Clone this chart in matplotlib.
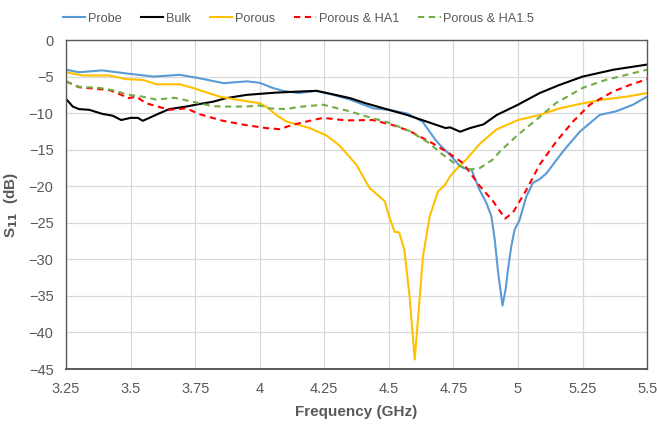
import matplotlib
matplotlib.use("Agg")
import matplotlib.pyplot as plt
import numpy as np

plt.rcParams['font.family'] = ['Liberation Sans', 'DejaVu Sans']

# Probe
f_probe = [3.25, 3.30, 3.39, 3.48, 3.59, 3.69, 3.77, 3.86, 3.95, 4.00, 4.05, 4.09, 4.15, 4.22,
           4.28, 4.35, 4.44, 4.50, 4.57, 4.63, 4.68, 4.70, 4.735, 4.77, 4.79, 4.82, 4.85, 4.877,
           4.897, 4.91, 4.923, 4.94, 4.952, 4.961, 4.974, 4.987, 5.006, 5.032, 5.058, 5.084,
           5.11, 5.174, 5.239, 5.316, 5.38, 5.445, 5.50]
s_probe = [-4.0, -4.35, -4.1, -4.5, -4.95, -4.7, -5.2, -5.85, -5.6, -5.8, -6.5, -6.9, -7.2, -6.9,
           -7.4, -8.1, -9.3, -9.5, -10.0, -11.1, -13.6, -14.4, -15.6, -17.0, -17.5, -17.7, -20.4, -22.2,
           -24.1, -27.3, -31.8, -36.3, -34.1, -31.4, -28.2, -25.9, -24.6, -21.4, -19.5, -19.0,
           -18.2, -15.2, -12.5, -10.2, -9.7, -8.8, -7.7]

# Bulk
f_bulk = [3.25, 3.276, 3.30, 3.34, 3.39, 3.43, 3.464, 3.50, 3.528, 3.547, 3.573, 3.61, 3.65,
          3.716, 3.767, 3.818, 3.87, 3.95, 4.06, 4.15, 4.22, 4.28, 4.35, 4.41, 4.50, 4.57, 4.645,
          4.72, 4.737, 4.776, 4.814, 4.866, 4.918, 5.0, 5.084, 5.16, 5.25, 5.37, 5.5]
s_bulk = [-8.0, -9.05, -9.4, -9.5, -10.05, -10.3, -10.9, -10.6, -10.6, -11.0, -10.6, -10.0, -9.4,
          -9.05, -8.7, -8.4, -7.9, -7.45, -7.15, -7.0, -6.9, -7.35, -7.9, -8.6, -9.5, -10.2, -11.1,
          -12.0, -11.9, -12.5, -12.0, -11.5, -10.2, -8.8, -7.2, -6.1, -4.95, -4.0, -3.3]

# Porous
f_por = [3.25, 3.315, 3.418, 3.483, 3.547, 3.60, 3.69, 3.741, 3.845, 3.909, 4.0, 4.03, 4.064,
         4.103, 4.154, 4.193, 4.258, 4.309, 4.374, 4.425, 4.464, 4.484, 4.50, 4.522, 4.54, 4.56,
         4.58, 4.60, 4.62, 4.632, 4.658, 4.69, 4.717, 4.737, 4.77, 4.80, 4.851, 4.916, 5.0,
         5.084, 5.161, 5.252, 5.329, 5.42, 5.5]
s_por = [-4.35, -4.8, -4.8, -5.3, -5.4, -6.0, -6.0, -6.5, -7.7, -8.1, -8.6, -9.2, -10.2,
         -11.1, -11.6, -12.0, -13.0, -14.4, -17.0, -20.2, -21.4, -22.0, -24.0, -26.2, -26.3, -28.7,
         -35.0, -43.7, -35.0, -29.6, -24.1, -20.7, -19.8, -18.6, -17.3, -16.3, -14.2, -12.2, -10.9,
         -10.2, -9.3, -8.6, -8.1, -7.7, -7.2]

# Porous & HA1
f_ha1 = [3.25, 3.30, 3.418, 3.464, 3.49, 3.522, 3.56, 3.65, 3.716, 3.767, 3.857, 3.948, 4.025,
         4.077, 4.128, 4.206, 4.245, 4.335, 4.438, 4.516, 4.58, 4.67, 4.735, 4.787, 4.851, 4.903,
         4.95, 4.98, 5.032, 5.084, 5.149, 5.213, 5.278, 5.368, 5.432, 5.5]
s_ha1 = [-5.6, -6.4, -6.8, -7.45, -7.9, -7.7, -8.6, -9.5, -9.3, -10.1, -11.0, -11.6, -12.0,
         -12.15, -11.55, -10.9, -10.6, -10.95, -10.9, -11.6, -12.4, -14.1, -15.5, -16.8, -19.9, -22.0,
         -24.4, -23.6, -20.5, -17.0, -13.8, -11.1, -8.8, -7.0, -6.1, -5.3]

# Porous & HA1.5
f_ha15 = [3.25, 3.30, 3.38, 3.444, 3.483, 3.547, 3.60, 3.67, 3.741, 3.818, 3.87, 3.948, 4.0,
          4.038, 4.103, 4.15, 4.245, 4.348, 4.413, 4.503, 4.58, 4.658, 4.70, 4.761, 4.813, 4.851,
          4.903, 4.93, 5.0, 5.08, 5.146, 5.25, 5.34, 5.42, 5.5]
s_ha15 = [-5.6, -6.35, -6.5, -6.9, -7.4, -7.7, -8.1, -7.85, -8.4, -9.0, -9.05, -9.05, -8.9,
          -9.3, -9.4, -9.1, -8.8, -9.7, -10.4, -11.3, -12.4, -14.1, -15.4, -17.0, -17.7, -17.5,
          -16.3, -15.2, -12.9, -10.6, -8.6, -6.5, -5.4, -4.7, -4.0]

xticks = [3.25, 3.5, 3.75, 4, 4.25, 4.5, 4.75, 5, 5.25, 5.5]
xlabels = ['3.25', '3.5', '3.75', '4', '4.25', '4.5', '4.75', '5', '5.25', '5.5']
yticks = [0, -5, -10, -15, -20, -25, -30, -35, -40, -45]

fig = plt.figure(figsize=(6.57, 4.26), dpi=100)
ax = fig.add_axes([0.1005, 0.1338, 0.8845, 0.7712])

lw = 1.5
ax.plot(f_probe, s_probe, color='#5B9BD5', lw=lw, label='Probe')
ax.plot(f_bulk, s_bulk, color='black', lw=lw, label='Bulk')
ax.plot(f_por, s_por, color='#FFC000', lw=lw, label='Porous')
ax.plot(f_ha1, s_ha1, color='#FF0000', lw=lw, ls=(0, (3, 2.2)), label='Porous & HA1')
ax.plot(f_ha15, s_ha15, color='#70AD47', lw=lw, ls=(0, (3, 2.2)), label='Porous & HA1.5')

ax.set_xlim(3.25, 5.5)
ax.set_ylim(-45, 0)
ax.set_xticks(xticks)
ax.set_xticklabels(xlabels)
ax.set_yticks(yticks)
ax.grid(True, color='#D9D9D9', lw=0.9)
ax.set_axisbelow(True)
ax.tick_params(length=0, labelsize=10.5, colors='#595959', pad=9)
for sp in ax.spines.values():
    sp.set_color('#595959')
    sp.set_linewidth(1.0)
ax.spines['bottom'].set_linewidth(1.4)

ax.set_xlabel('Frequency (GHz)', fontsize=11, fontweight='bold', color='#595959', labelpad=7)
ax.set_ylabel(r'S$_\mathbf{11}$  (dB)', fontsize=11, fontweight='bold', color='#595959', labelpad=6)

fig.legend(loc='upper left', bbox_to_anchor=(0.078, 0.997), ncol=5, frameon=False,
           fontsize=9.2, handlelength=1.75, handletextpad=0.2, columnspacing=1.5,
           labelcolor='#595959')

fig.savefig('out.png', dpi=100)
